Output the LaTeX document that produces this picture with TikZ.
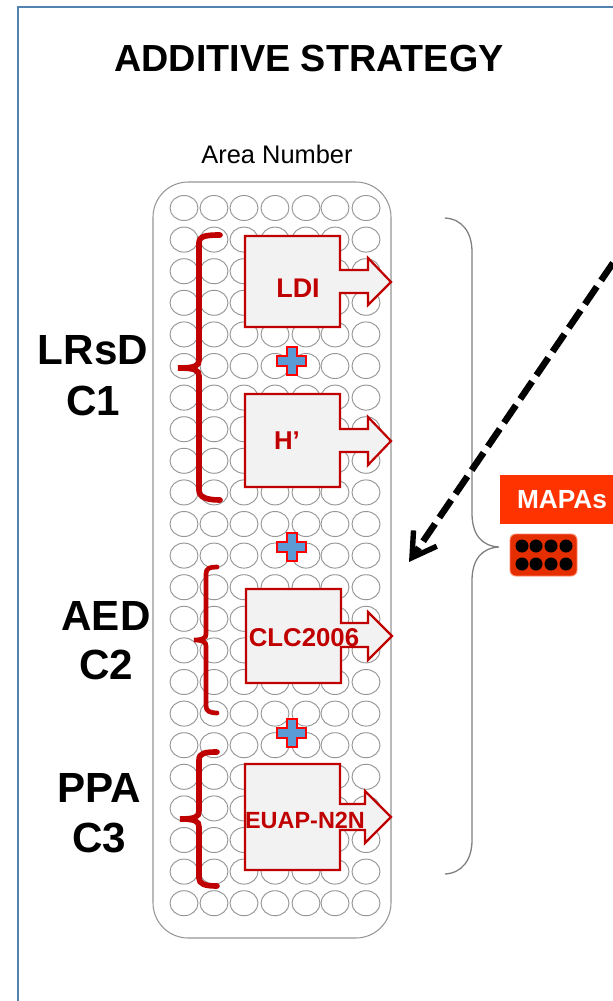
\documentclass[tikz,border=0pt]{standalone}
\usepackage{fontspec}
\setmainfont{Liberation Sans}
\usetikzlibrary{arrows.meta,positioning,calc}

\definecolor{framec}{RGB}{84,130,176}
\definecolor{cellc}{RGB}{150,150,150}
\definecolor{darkred}{RGB}{192,0,0}
\definecolor{plusc}{RGB}{91,155,213}
\definecolor{boxc}{RGB}{242,242,242}
\definecolor{mapac}{RGB}{255,51,0}

\newcommand{\fs}[1]{\fontsize{#1}{#1}\selectfont}

\begin{document}
\begin{tikzpicture}[
    x=0.03cm, y=-0.03cm,
    cell/.style={draw=cellc, line width=0.8pt},
    callout/.style={draw=darkred, fill=boxc, line width=1.9pt, line join=miter},
    redbrace/.style={draw=darkred, line width=4.8pt, line cap=round},
    plus/.style={draw=red, fill=plusc, line width=1.9pt, line join=miter},
    biglabel/.style={font=\fs{36}\bfseries, text=black, inner sep=0pt},
    boxlabel/.style={font=\bfseries, text=darkred, inner sep=0pt},
]
\useasboundingbox (0,0) rectangle (613,1001);
\fill[white] (0,0) rectangle (613,1001);

% Frame
\draw[framec, line width=1.6pt] (18,1001) -- (18,7) -- (613,7);

% Title
\node[font=\fs{32.2}\bfseries, inner sep=0pt] (title) at (309,59) {ADDITIVE STRATEGY};
\node[font=\fs{21.7}, inner sep=0pt] (area) at (277,154) {Area Number};

% Area grid
\draw[draw=cellc, line width=0.9pt, rounded corners=30pt] (153,182) rectangle (391,938);
\foreach \r in {0,...,22} {
  \foreach \c in {184,214,244,275,306,335,366} {
    \draw[cell] (\c,208+31.6*\r) ellipse [x radius=14, y radius=12.5];
  }
}

% LDI
\draw[callout] (245,236) -- (340,236) -- (340,270) -- (368,270) -- (368,258) -- (391,282) -- (368,305) -- (368,293) -- (340,293) -- (340,327) -- (245,327) -- cycle;
\node[boxlabel, font=\fs{23}\bfseries] (ldi) at (298,288) {LDI};

% H'
\draw[callout] (245,394) -- (340,394) -- (340,429) -- (368,429) -- (368,417) -- (391,441) -- (368,465) -- (368,452) -- (340,452) -- (340,487) -- (245,487) -- cycle;
\node[boxlabel, font=\fs{22}\bfseries] (hprime) at (287,441) {H’};

% CLC2006
\draw[callout] (246,589) -- (341,589) -- (341,623) -- (368,623) -- (368,612) -- (392,636) -- (368,660) -- (368,647) -- (341,647) -- (341,683) -- (246,683) -- cycle;
\node[boxlabel, font=\fs{22}\bfseries] (clc) at (304,638) {CLC2006};

% EUAP-N2N
\draw[callout] (245,764) -- (340,764) -- (340,804) -- (365,804) -- (365,791) -- (391,817) -- (365,843) -- (365,830) -- (340,830) -- (340,870) -- (245,870) -- cycle;
\node[boxlabel, font=\fs{20}\bfseries] (euap) at (305,820) {EUAP-N2N};

% Plus signs
\foreach \py in {361,547,733} {
  \draw[plus] (287,\py-14) -- (297,\py-14) -- (297,\py-5) -- (306,\py-5) -- (306,\py+5) -- (297,\py+5) -- (297,\py+14) -- (287,\py+14) -- (287,\py+5) -- (277,\py+5) -- (277,\py-5) -- (287,\py-5) -- cycle;
}

% Red braces
\draw[redbrace] (220,235) .. controls (206,235) and (199,236) .. (199,243) -- (199,360) .. controls (199,366) and (195,368) .. (178,368) .. controls (195,368) and (199,370) .. (199,376) -- (199,490) .. controls (199,497) and (206,500) .. (220,500);
\draw[redbrace, line width=4pt] (217,567) .. controls (210,567) and (206,568) .. (206,574) -- (206,634) .. controls (206,638) and (203,640) .. (194,640) .. controls (203,640) and (206,642) .. (206,646) -- (206,706) .. controls (206,711) and (210,713) .. (217,713);
\draw[redbrace] (217,752) .. controls (205,752) and (199,753) .. (199,760) -- (199,811) .. controls (199,817) and (195,819) .. (180,819) .. controls (195,819) and (199,821) .. (199,827) -- (199,878) .. controls (199,884) and (205,886) .. (217,886);

% Group labels
\node[biglabel] (lrsd) at (93,350) {LRsD};
\node[biglabel] (cone) at (93,401) {C1};
\node[biglabel] (aed) at (106,616) {AED};
\node[biglabel] (ctwo) at (106,665) {C2};
\node[biglabel] (ppa) at (99,788) {PPA};
\node[biglabel] (cthree) at (99,838) {C3};

% Big brace
\draw[draw=gray, line width=1.1pt] (445,218) .. controls (462,219) and (472,232) .. (472,252) -- (472,513) .. controls (472,535) and (482,546) .. (499,547) .. controls (482,548) and (472,559) .. (472,581) -- (472,840) .. controls (472,860) and (462,873) .. (445,874);

% MAPAs
\fill[mapac] (500,475) rectangle (613,524);
\node[text=white, font=\fs{22.4}\bfseries, inner sep=0pt] (mapas) at (562,499.5) {MAPAs};
\draw[fill=mapac!90!black, draw=mapac!60, line width=0.8pt, rounded corners=5pt] (510,534) rectangle (577,576);
\foreach \dx in {522,536,551,566} {
  \foreach \dy in {546,564} {
    \fill[black] (\dx,\dy) circle [radius=6.5];
  }
}

% Dashed arrow
\coordinate (dashstart) at (613,263);
\coordinate (dashend) at (409,562);
\draw[black, line width=5.6pt, dash pattern=on 18pt off 6.5pt, -{Straight Barb[length=20pt,width=24pt,line width=4.6pt]}] (dashstart) -- (dashend);
\end{tikzpicture}
\end{document}
